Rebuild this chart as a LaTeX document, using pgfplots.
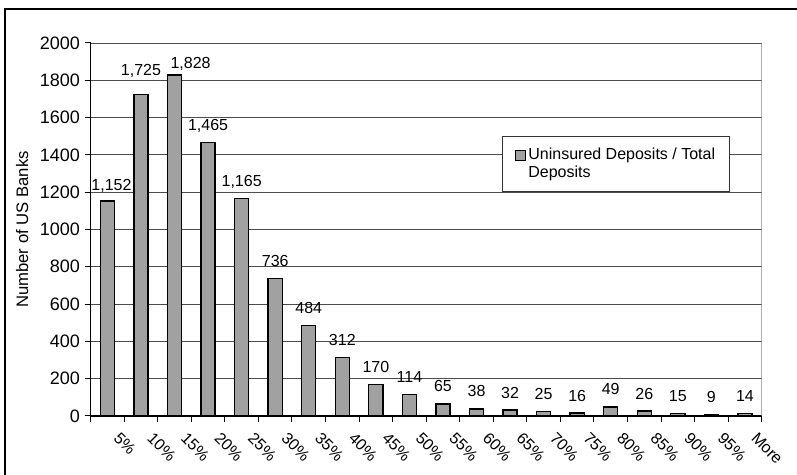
\documentclass[border=0pt]{standalone}
\usepackage{fontspec}
\setmainfont{Liberation Sans}
\usepackage{pgfplots}
\usepackage{pgfplotstable}
\pgfplotsset{compat=1.18}

\newcommand\cf{\fontsize{12}{13.5}\selectfont}

% bucket, banks, label shift x / y (pt)
\pgfplotstableread{
x  y    dx  dy
1  1152 3   8
2  1725 0   14
3  1828 12  5
4  1465 0   9
5  1165 0   9
6  736  0   9
7  484  0   9
8  312  0   9
9  170  0   9
10 114  0   9
11 65   0   9
12 38   0   9
13 32   0   9
14 25   0   9
15 16   0   9
16 49   0   9
17 26   0   9
18 15   0   9
19 9    0   9
20 14   0   9
}\banks

\begin{document}
\begin{tikzpicture}
\useasboundingbox (0,0) rectangle (597.75pt,356.25pt);
\draw[line width=1pt] (3.75pt,0) -- (3.75pt,349.5pt) -- (597.75pt,349.5pt);
\begin{axis}[
  at={(68pt,44.25pt)}, anchor=south west,
  scale only axis, width=503.3pt, height=279.75pt,
  ybar, bar width=0.42,
  xmin=0.5, xmax=20.5, ymin=0, ymax=2000,
  axis lines=left, axis line style={-, line width=0.9pt},
  ytick={0,200,...,2000},
  xtick={0.5,1.5,...,20.5},
  x tick label as interval,
  xticklabels={5\%,10\%,15\%,20\%,25\%,30\%,35\%,40\%,45\%,50\%,55\%,60\%,65\%,70\%,75\%,80\%,85\%,90\%,95\%,More},
  xticklabel style={xshift=10pt, yshift=-2.25pt, rotate=-45, anchor=north west, font=\cf},
  yticklabel style={font=\fontsize{13.5}{15}\selectfont},
  tick align=outside, major tick length=4.5pt,
  tick style={black, line width=0.75pt},
  ymajorgrids, major grid style={black!70, line width=0.6pt},
  label style={font=\fontsize{12.5}{14}\selectfont},
  /pgf/number format/assume math mode=true,
  /pgf/number format/1000 sep={},
  ylabel={Number of US Banks},
  ylabel style={at={(axis description cs:-0.102,0.5)}, anchor=center},
  legend style={at={(0.613,0.751)}, anchor=north west, draw=black!80,
    line width=0.75pt, font=\cf, cells={align=left, anchor=west},
    inner xsep=9pt, inner ysep=7pt},
  legend image code/.code={\draw[#1, line width=0.9pt] (0pt,2.5pt) rectangle (7.5pt,10pt);},
]
\addplot[fill=black!37, draw=black, line width=1pt, point meta=y,
  visualization depends on={\thisrow{dx} \as \dx},
  visualization depends on={\thisrow{dy} \as \dy},
  nodes near coords={\pgfmathprintnumber[fixed,precision=0,1000 sep={,}]{\pgfplotspointmeta}},
  nodes near coords style={anchor=base, xshift=\dx pt, yshift=\dy pt, font=\cf, inner sep=0pt, black}]
  table[x=x, y=y] {\banks};
\addlegendentry{Uninsured Deposits / Total\\Deposits}
\draw[black!50, line width=0.75pt] (rel axis cs:1,0) -- (rel axis cs:1,1);
\end{axis}
\end{tikzpicture}
\end{document}
